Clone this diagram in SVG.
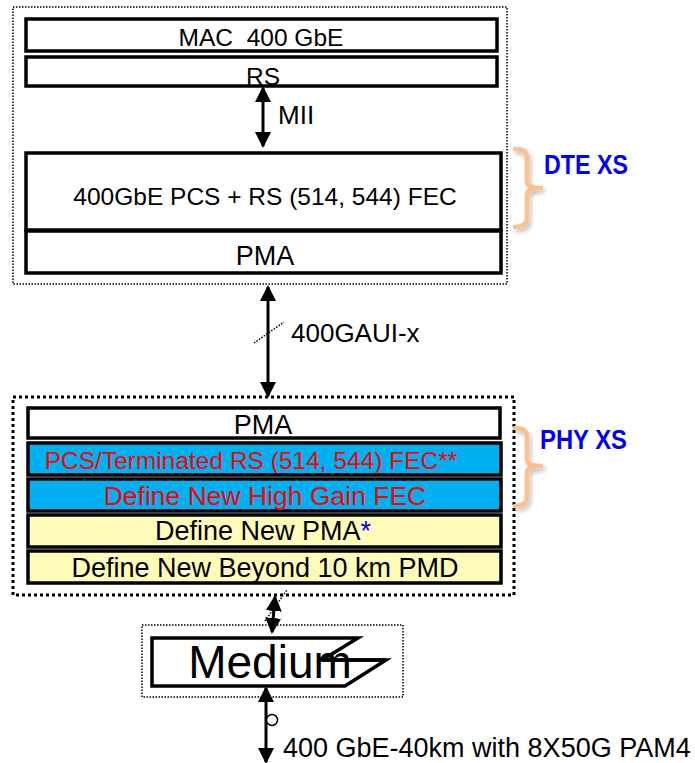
<svg xmlns="http://www.w3.org/2000/svg" width="695" height="763" viewBox="0 0 695 763">
<style>
.t{font-family:"Liberation Sans",Arial,sans-serif;font-size:24.5px;text-anchor:middle;fill:#000}
.big{font-size:27px}
.lbl{font-family:"Liberation Sans",Arial,sans-serif;font-size:26px;fill:#000}
.box{stroke:#000;stroke-width:3.5;fill:#fff}
.blue{fill:#00B0F0}
.yel{fill:#FFFBB8}
.red{fill:#FF0000}
.xs{font-family:"Liberation Sans",Arial,sans-serif;font-weight:bold;font-size:27px;fill:#0000FF}
.dot{fill:none;stroke:#000;stroke-width:1.5;stroke-dasharray:1.5 1.5}
.dot3{fill:none;stroke:#000;stroke-width:3;stroke-dasharray:3 3}
.brace{fill:none;stroke:#FAC08F;stroke-width:4.5;stroke-linecap:round;stroke-linejoin:round}
.arr{stroke:#000;stroke-width:3;fill:none;marker-start:url(#ah);marker-end:url(#ah)}
</style>
<defs>
<marker id="ah" markerUnits="userSpaceOnUse" markerWidth="16" markerHeight="16" viewBox="0 0 16 16" refX="14" refY="8" orient="auto-start-reverse">
<path d="M0,0 L16,8 L0,16 Z" fill="#000"/>
</marker>
<filter id="sh" x="-50%" y="-10%" width="200%" height="130%">
<feDropShadow dx="2" dy="3" stdDeviation="2" flood-color="#000" flood-opacity="0.25"/>
</filter>
</defs>

<g id="dte">
<rect class="dot" x="13" y="7" width="494" height="277"/>
</g>
<g id="mac"><rect class="box" x="26" y="19" width="471" height="32"/><text class="t" x="261" y="46">MAC&#160; 400 GbE</text></g>
<g id="rs"><rect class="box" x="26" y="57" width="471" height="29"/><text class="t" x="263" y="85">RS</text></g>
<g id="pcs"><rect class="box" x="26" y="153" width="475" height="77"/><text class="t" x="265" y="205">400GbE PCS + RS (514, 544) FEC</text></g>
<g id="pma1"><rect class="box" x="26" y="231" width="475" height="42"/><text class="t big" x="265" y="265">PMA</text></g>
<g id="dte-xs"><path class="brace" filter="url(#sh)" d="M515,149 Q527,149 527,158 L527,181 Q527,188 541,188 Q527,188 527,195 L527,218 Q527,227 515,227"/><text class="xs" x="544" y="174" textLength="84" lengthAdjust="spacingAndGlyphs">DTE XS</text></g>

<g id="phy">
<rect class="dot3" x="13" y="397" width="501" height="198"/>
</g>
<g id="pma2"><rect class="box" x="28" y="408" width="472" height="30"/><text class="t big" x="263" y="434">PMA</text></g>
<g id="pcs2"><rect class="box blue" x="28" y="443" width="473" height="32"/><text class="t red" x="251" y="469">PCS/Terminated RS (514, 544) FEC**</text></g>
<g id="fec"><rect class="box blue" x="28" y="479" width="473" height="32"/><text class="t red" x="265" y="505" style="font-size:26.5px">Define New High Gain FEC</text></g>
<g id="pmanew"><rect class="box yel" x="28" y="515" width="473" height="32"/><text class="t big" x="263" y="540">Define New PMA<tspan fill="#0000FF">*</tspan></text></g>
<g id="pmd"><rect class="box yel" x="28" y="551" width="473" height="32"/><text class="t big" x="265" y="577">Define New Beyond 10 km PMD</text></g>
<g id="phy-xs"><path class="brace" filter="url(#sh)" d="M515,428 Q527,428 527,437 L527,459 Q527,466 541,466 Q527,466 527,473 L527,497 Q527,506 515,506"/><text class="xs" x="540" y="449" textLength="87" lengthAdjust="spacingAndGlyphs">PHY XS</text></g>

<g id="medium">
<rect class="dot" x="142" y="625" width="261" height="72"/>
<path d="M152,638 L358,638 L322,660 L386,660 L345,686 L152,686 Z" fill="#fff" stroke="#000" stroke-width="3.5" stroke-linejoin="miter"/>
<text x="270" y="678" font-family="'Liberation Sans',Arial,sans-serif" font-size="46" text-anchor="middle">Medium</text>
<path d="M322,660 L386,660" stroke="#000" stroke-width="3.5"/>
</g>

<g id="connectors">
<line class="arr" x1="263" y1="88" x2="263" y2="146"/>
<text class="lbl" x="278" y="124">MII</text>
<line class="arr" x1="268" y1="287" x2="268" y2="396"/>
<line x1="254" y1="343" x2="284" y2="322" stroke="#000" stroke-width="1.5" stroke-dasharray="1.5 1.5"/>
<text class="lbl" x="291" y="342">400GAUI-x</text>
<line class="arr" x1="275" y1="597" x2="272" y2="632"/>
<line x1="265" y1="621" x2="287" y2="590" stroke="#000" stroke-width="1.5" stroke-dasharray="1.5 1.5"/>
<line class="arr" x1="266" y1="688" x2="266" y2="762"/>
<circle cx="272" cy="720" r="5.5" fill="#fff" stroke="#000" stroke-width="1.5"/>
<text class="lbl" x="283" y="757" style="font-size:27px">400 GbE-40km with 8X50G PAM4</text>
</g>
</svg>
